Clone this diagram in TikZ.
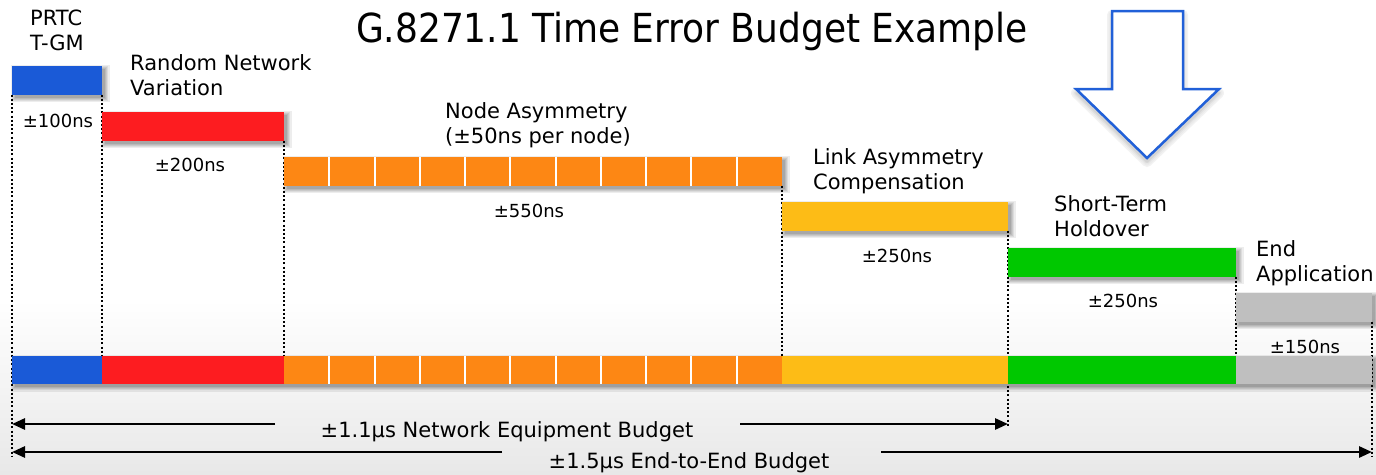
\documentclass[tikz,border=0pt]{standalone}
\usepackage{fontspec}
\setmainfont{DejaVu Sans}
\newfontfamily\titlefont{DejaVu Sans Condensed}
\usetikzlibrary{arrows.meta,calc}

\definecolor{barblue}{HTML}{1A5AD7}
\definecolor{barred}{HTML}{FD1C20}
\definecolor{barorange}{HTML}{FD8714}
\definecolor{baryellow}{HTML}{FDBC16}
\definecolor{bargreen}{HTML}{00C800}
\definecolor{bargray}{HTML}{BFBFBF}
\definecolor{arrowblue}{HTML}{2160D8}

\pgfdeclarelayer{paper}
\pgfdeclarelayer{shade}
\pgfdeclarelayer{guides}
\pgfsetlayers{paper,shade,guides,main}

% soft drop shadow below and right of the box spanned by two corners
\newcommand\boxshadow[2]{%
  \foreach \ex/\op in {4.5/0.07,3.4/0.07,2.3/0.08,1.2/0.08,0.3/0.1}
    \fill[black,opacity=\op] ($(#1)+(3-\ex,3-\ex)$)
      rectangle ($(#2)+(3+\ex,3+\ex)$);}

\begin{document}
\begin{tikzpicture}[x=1pt,y=-1pt,
  bar/.style={rectangle,inner sep=0pt,outer sep=0pt,minimum height=28.5pt,
    anchor=north west},
  seg/.style={rectangle,inner sep=0pt,outer sep=0pt,minimum height=28pt,
    anchor=north west},
  divider/.style={white,line width=2pt},
  guide/.style={black,line width=2.2pt,dash pattern=on 2pt off 2.2pt},
  stage/.style={font=\fontsize{21}{25}\selectfont,align=left,anchor=base west,
    inner sep=0pt},
  amount/.style={font=\fontsize{18}{22}\selectfont,anchor=base,inner sep=0pt},
  sumtext/.style={font=\fontsize{21}{25}\selectfont,anchor=base,inner sep=0pt},
  budget/.style={black,line width=2.8pt,-{Triangle[length=13pt,width=11pt]}},
  bigarrow/.style={draw=arrowblue,line width=2.5pt,fill=white,line join=miter},
]
\useasboundingbox (0,0) rectangle (1376,474);

% paper with a soft grey fade at the bottom
\begin{pgfonlayer}{paper}
  \fill[white] (0,0) rectangle (1376,474);
  \shade[top color=white,bottom color=black!9] (0,300) rectangle (1376,474);
\end{pgfonlayer}

% title
\node[font=\titlefont\fontsize{40}{48}\selectfont,anchor=base,inner sep=0pt]
  (title) at (692,42) {G.8271.1 Time Error Budget Example};

% staircase of budget contributions
\node[bar,fill=barblue,minimum width=90pt]    (prtc)   at (12,66)   {};
\node[bar,fill=barred,minimum width=182pt]    (rnv)    at (102,112) {};
\node[bar,fill=barorange,minimum width=498pt] (nasym)  at (284,157) {};
\node[bar,fill=baryellow,minimum width=226pt] (lasym)  at (782,202) {};
\node[bar,fill=bargreen,minimum width=228pt]  (hold)   at (1008,248) {};
\node[bar,fill=bargray,minimum width=136pt]   (endapp) at (1236,293) {};

% accumulated bar
\node[seg,fill=barblue,minimum width=90pt]    (prtcB)  at (12,356) {};
\node[seg,fill=barred,minimum width=182pt]    (rnvB)   at (prtcB.north east) {};
\node[seg,fill=barorange,minimum width=498pt] (nasymB) at (rnvB.north east) {};
\node[seg,fill=baryellow,minimum width=226pt] (lasymB) at (nasymB.north east) {};
\node[seg,fill=bargreen,minimum width=228pt]  (holdB)  at (lasymB.north east) {};
\node[seg,fill=bargray,minimum width=136pt]   (endB)   at (holdB.north east) {};

\begin{pgfonlayer}{shade}
  \foreach \b in {prtc,rnv,nasym,lasym,hold,endapp}
    {\boxshadow{\b.north west}{\b.south east}}
  \boxshadow{prtcB.north west}{endB.south east}
\end{pgfonlayer}

% one cell per node in the node-asymmetry bars
\foreach \n in {nasym,nasymB}
  \foreach \i in {1,...,10}
    \draw[divider] ($(\n.north west)!\i/11!(\n.north east)$)
      -- ($(\n.south west)!\i/11!(\n.south east)$);

% dotted guides
\coordinate (eeL) at (12,457);
\coordinate (neR) at (1008,427);
\coordinate (eeR) at (1372,457);
\begin{pgfonlayer}{guides}
  \draw[guide] (prtc.south west)  -- (eeL);
  \draw[guide] (prtc.south east)  -- (rnvB.north west);
  \draw[guide] (rnv.south east)   -- (nasymB.north west);
  \draw[guide] (nasym.south east) -- (lasymB.north west);
  \draw[guide] (lasym.south east) -- (neR);
  \draw[guide] (hold.south east)  -- (endB.north west);
  \draw[guide] (endapp.south east) -- (eeR);
\end{pgfonlayer}

% stage names (anchored on the baseline of their last line)
\node[stage] (lprtc)  at (30,50)   {PRTC\\T-GM};
\node[stage] (lrnv)   at (130,95)  {Random Network\\Variation};
\node[stage] (lnasym) at (445,143) {Node Asymmetry\\(±50ns per node)};
\node[stage] (llasym) at (813,189) {Link Asymmetry\\Compensation};
\node[stage] (lhold)  at (1054,236) {Short-Term\\Holdover};
\node[stage] (lend)   at (1256,281) {End\\Application};

% stage amounts
\node[amount] (vprtc)  at (58,127)   {±100ns};
\node[amount] (vrnv)   at (190,171)  {±200ns};
\node[amount] (vnasym) at (529,217)  {±550ns};
\node[amount] (vlasym) at (897,262)  {±250ns};
\node[amount] (vhold)  at (1123,307) {±250ns};
\node[amount] (vend)   at (1305,353) {±150ns};

% totals
\node[sumtext] (ne) at (507,437) {±1.1µs Network Equipment Budget};
\node[sumtext] (ee) at (689,468) {±1.5µs End-to-End Budget};
\coordinate (neA) at (275,424);
\coordinate (neAtip) at (12,424);
\coordinate (neB) at (740,424);
\coordinate (neBtip) at (1008,424);
\coordinate (eeA) at (502,452);
\coordinate (eeAtip) at (12,452);
\coordinate (eeB) at (881,452);
\coordinate (eeBtip) at (1372,452);
\draw[budget] (neA) -- (neAtip);
\draw[budget] (neB) -- (neBtip);
\draw[budget] (eeA) -- (eeAtip);
\draw[budget] (eeB) -- (eeBtip);

% pointer arrow with a soft shadow underneath
\begin{scope}[yshift=-4pt]
  \foreach \w/\g in {10/5,7/8,4/12,1.5/17}
    \filldraw[draw=black!\g,fill=black!\g,line width=\w pt,line join=round]
      (1112,11) -- (1183,11) -- (1183,89) -- (1219,89)
      -- (1147,158) -- (1076,89) -- (1112,89) -- cycle;
\end{scope}
\draw[bigarrow] (1112,11) -- (1183,11) -- (1183,89) -- (1219,89)
  -- (1147,158) -- (1076,89) -- (1112,89) -- cycle;
\end{tikzpicture}
\end{document}
